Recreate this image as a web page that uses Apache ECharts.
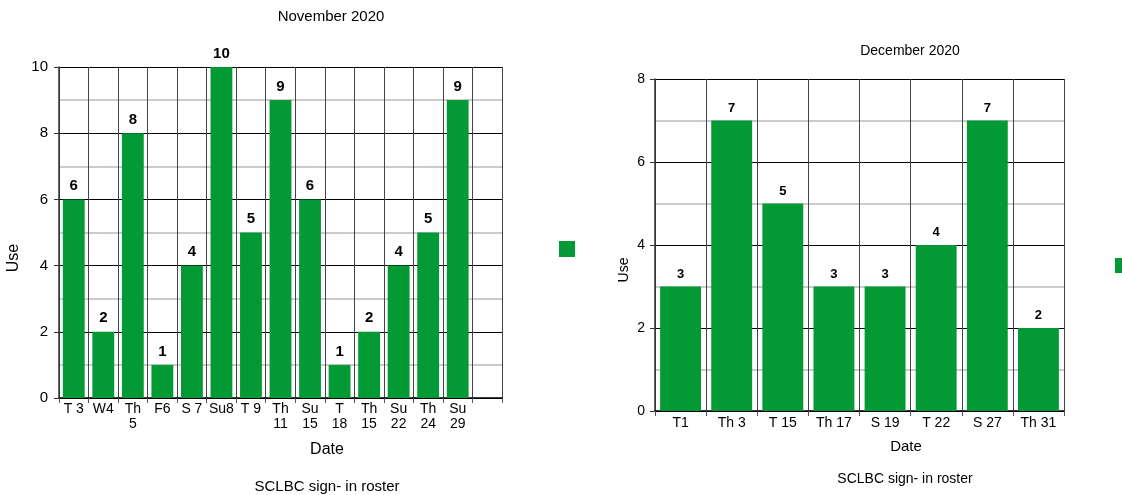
<!DOCTYPE html>
<html><head><meta charset="utf-8">
<script src="https://cdn.jsdelivr.net/npm/echarts@6/dist/echarts.min.js"></script>
<style>html,body{margin:0;padding:0;background:#fff}#c{width:1122px;height:495px}</style>
</head><body><div id="c"></div>
<script>
var novCategories = ["T 3","W4","Th\n5","F6","S 7","Su8","T 9","Th\n11","Su\n15","T\n18","Th\n15","Su\n22","Th\n24","Su\n29",""];
var novValues = [6,2,8,1,4,10,5,9,6,1,2,4,5,9,null];
var decCategories = ["T1","Th 3","T 15","Th 17","S 19","T 22","S 27","Th 31"];
var decValues = [3,7,5,3,3,4,7,2];
var novTitle = "November 2020", decTitle = "December 2020";
var caption = "SCLBC sign- in roster";
var xName = "Date", yName = "Use";

var green = '#039a36';
var font = 'Liberation Sans, Arial, sans-serif';
var chart = echarts.init(document.getElementById('c'));
function yAx(idx, max, fs, margin){
  return {gridIndex: idx, type:'value', min:0, max:max, interval:2,
    axisLine:{show:true, lineStyle:{color:'#333', width:1.5}},
    axisTick:{show:true, length:5, lineStyle:{color:'#333'}},
    axisLabel:{color:'#000', fontSize:fs, fontFamily:font, margin:margin},
    splitLine:{show:true, lineStyle:{color:'#000', width:1}},
    minorTick:{show:false, splitNumber:2},
    minorSplitLine:{show:true, lineStyle:{color:'#bbb', width:1.5}}};
}
function xAx(idx, cats, fs, margin){
  return {gridIndex: idx, type:'category', data:cats,
    axisLine:{show:true, lineStyle:{color:'#000', width:1.5}},
    axisTick:{show:true, length:5, lineStyle:{color:'#555'}},
    axisLabel:{color:'#000', fontSize:fs, fontFamily:font, margin:margin, interval:0, lineHeight:15},
    splitLine:{show:true, lineStyle:{color:'#444', width:1}}};
}
function txt(s, x, y, fs, rot){
  return {type:'text', x:x, y:y, rotation: rot ? Math.PI/2 : 0,
    style:{text:s, fill:'#000', font: fs + 'px ' + font, textAlign:'center', textVerticalAlign:'middle'}};
}
chart.setOption({
  animation:false,
  title:[
    {text:novTitle, left:326, top:4, textAlign:'center', textStyle:{fontSize:15, fontWeight:'normal', color:'#000', fontFamily:font}},
    {text:decTitle, left:905, top:39, textAlign:'center', textStyle:{fontSize:14, fontWeight:'normal', color:'#000', fontFamily:font}}
  ],
  graphic:[
    txt(yName, 14, 258, 16, true),
    txt(yName, 624, 270, 14, true),
    txt(xName, 327, 450, 16, false),
    txt(xName, 906, 447, 15, false),
    txt(caption, 327, 487, 15, false),
    txt(caption, 905, 479, 14, false)
  ],
  legend:[
    {data:['Nov'], left:554, top:236, itemWidth:16, itemHeight:16, icon:'rect', formatter:function(){return '';}, selectedMode:false},
    {data:['Dec'], left:1110, top:253, itemWidth:15, itemHeight:15, icon:'rect', formatter:function(){return '';}, selectedMode:false}
  ],
  grid:[
    {left:59, top:67, width:443, height:331},
    {left:655, top:79, width:409, height:332}
  ],
  xAxis:[xAx(0, novCategories, 14, 4), xAx(1, decCategories, 14, 5)],
  yAxis:[yAx(0, 10, 15, 11), yAx(1, 8, 14, 10)],
  series:[
    {name:'Nov', type:'bar', xAxisIndex:0, yAxisIndex:0, data:novValues, barCategoryGap:'26%',
     itemStyle:{color:green}, label:{show:true, position:'top', color:'#000', fontWeight:'bold', fontSize:15, fontFamily:font, distance:6}},
    {name:'Dec', type:'bar', xAxisIndex:1, yAxisIndex:1, data:decValues, barCategoryGap:'20%',
     itemStyle:{color:green}, label:{show:true, position:'top', color:'#000', fontWeight:'bold', fontSize:13, fontFamily:font, distance:6}}
  ]
});
</script></body></html>
